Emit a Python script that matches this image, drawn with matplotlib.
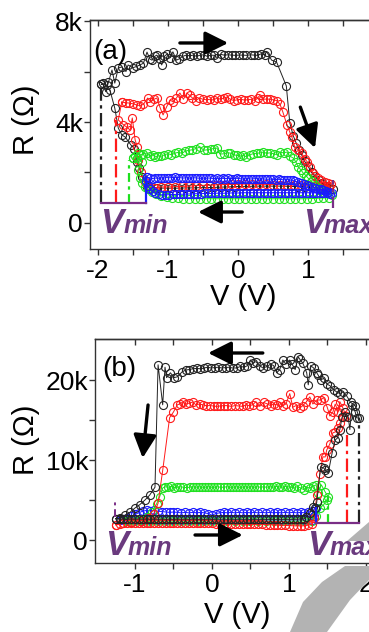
import matplotlib.pyplot as plt
from matplotlib.patches import Polygon

plt.rcParams['font.family'] = ['Liberation Sans', 'DejaVu Sans']

# ---------------- panel (a) data: (V, R) loops ----------------
a_black = [(-1.95,5500),(-1.93,5540),(-1.89,5200),(-1.85,5580),(-1.8,6060),(-1.76,5540),(-1.71,6140),(-1.66,6180),
           (-1.6,6000),(-1.57,6260),(-1.5,6150),(-1.45,6200),(-1.4,6260),(-1.35,6330),(-1.3,6770),(-1.26,6500),
           (-1.23,6450),(-1.19,6600),(-1.16,6650),(-1.12,6500),(-1.09,6260),(-1.05,6600),(-1.01,6700),(-0.97,6550),
           (-0.93,6780),(-0.88,6450),(-0.84,6500),(-0.79,6600),(-0.74,6650),(-0.69,6620),(-0.64,6650),(-0.59,6600),
           (-0.54,6650),(-0.49,6660),(-0.44,6600),(-0.39,6650),(-0.34,6640),(-0.3,6550),(-0.25,6680),(-0.2,6650),
           (-0.14,6660),(-0.09,6650),(-0.04,6640),(0.02,6650),(0.07,6650),(0.12,6640),(0.18,6660),(0.23,6650),
           (0.28,6640),(0.33,6700),(0.38,6660),(0.41,6780),(0.48,6450),(0.55,6380),(0.69,5430),(0.74,3960),
           (0.79,3450),(0.83,3170),(0.87,2900),(0.91,2690),(0.95,2450),(1.0,2250),(1.05,2000),(1.1,1850),
           (1.15,1700),(1.2,1580),(1.25,1480),(1.3,1400),(1.35,1350),
           (1.25,1380),(1.15,1400),(1.05,1420),(0.95,1430),(0.85,1440),(0.75,1450),(0.65,1460),(0.55,1460),
           (0.45,1460),(0.35,1460),(0.25,1460),(0.15,1450),(0.05,1450),(-0.05,1440),(-0.15,1430),(-0.25,1420),
           (-0.35,1410),(-0.45,1400),(-0.55,1400),(-0.65,1390),(-0.75,1390),(-0.85,1380),(-0.95,1380),(-1.05,1380),
           (-1.15,1390),(-1.25,1400),
           (-1.3,1430),(-1.37,1820),(-1.41,2180),(-1.44,2420),(-1.48,2950),(-1.53,3090),(-1.61,3400),(-1.66,3490),
           (-1.71,3760),(-1.76,4550),(-1.83,5270),(-1.87,5460),(-1.95,5500)]

a_red = [(-1.66,4790),(-1.6,4760),(-1.55,4750),(-1.5,4720),(-1.44,4670),(-1.4,4650),(-1.35,4700),(-1.29,4950),
         (-1.25,4800),(-1.2,4900),(-1.16,4950),(-1.11,4550),(-1.07,4280),(-1.02,4600),(-0.97,4870),(-0.93,4800),
         (-0.88,4950),(-0.83,5150),(-0.78,4900),(-0.73,5150),(-0.69,5050),(-0.65,4950),(-0.6,4850),(-0.55,4950),
         (-0.5,4900),(-0.45,4880),(-0.4,4900),(-0.35,4870),(-0.3,4950),(-0.25,4900),(-0.2,4950),(-0.16,4990),
         (-0.11,4900),(-0.06,4850),(-0.01,4880),(0.04,4900),(0.09,4870),(0.14,4880),(0.19,4900),(0.24,4850),
         (0.28,4950),(0.31,5050),(0.36,4900),(0.41,4910),(0.46,4900),(0.5,4880),(0.55,4850),(0.6,4700),
         (0.64,4400),(0.7,3880),(0.74,3600),(0.77,3400),(0.81,3010),(0.86,2900),(0.91,2770),(0.95,2550),
         (0.99,2420),(1.03,2200),(1.07,1980),(1.1,1880),(1.14,1780),(1.19,1700),(1.24,1620),(1.28,1580),
         (1.33,1560),
         (1.3,1450),(1.2,1470),(1.1,1480),(1.0,1490),(0.9,1500),(0.8,1500),(0.7,1510),(0.6,1520),(0.5,1520),
         (0.4,1530),(0.3,1530),(0.2,1540),(0.1,1540),(0.0,1540),(-0.1,1530),(-0.2,1520),(-0.3,1510),(-0.4,1500),
         (-0.5,1490),(-0.6,1480),(-0.7,1460),(-0.8,1450),(-0.9,1440),(-1.0,1430),(-1.1,1430),(-1.18,1400),
         (-1.26,1390),
         (-1.3,1500),(-1.33,1620),(-1.38,2000),(-1.43,2500),(-1.44,3010),(-1.47,3300),(-1.51,4160),(-1.54,3680),
         (-1.59,3800),(-1.64,3900),(-1.71,4080),(-1.66,4790)]

a_green = [(-1.5,2570),(-1.47,2650),(-1.43,2770),(-1.39,2700),(-1.35,2750),(-1.3,2770),(-1.26,2650),(-1.22,2700),
           (-1.18,2620),(-1.14,2660),(-1.1,2640),(-1.05,2700),(-1.0,2750),(-0.95,2700),(-0.9,2770),(-0.85,2800),
           (-0.8,2760),(-0.75,2850),(-0.7,2880),(-0.65,2900),(-0.6,2950),(-0.54,3010),(-0.49,2880),(-0.44,2900),
           (-0.39,2930),(-0.34,2950),(-0.3,2970),(-0.26,2730),(-0.2,2740),(-0.15,2780),(-0.11,2770),(-0.06,2700),
           (-0.02,2680),(0.03,2650),(0.07,2690),(0.12,2620),(0.17,2700),(0.22,2750),(0.27,2760),(0.32,2780),
           (0.36,2810),(0.41,2760),(0.46,2780),(0.51,2740),(0.56,2700),(0.6,2800),(0.65,2780),(0.7,2810),
           (0.74,2650),(0.79,2570),(0.83,2400),(0.86,2220),(0.9,2100),(0.93,1980),(0.97,1880),(1.0,1780),
           (1.05,1650),(1.1,1500),(1.15,1400),(1.21,1310),(1.27,1200),(1.34,1110),
           (1.3,1000),(1.22,990),(1.14,980),(1.06,970),(0.98,960),(0.9,960),(0.82,960),(0.74,960),(0.66,960),
           (0.58,960),(0.5,960),(0.42,960),(0.34,960),(0.26,960),(0.18,960),(0.1,960),(0.02,960),(-0.06,960),
           (-0.14,960),(-0.22,960),(-0.3,960),(-0.38,960),(-0.46,960),(-0.54,960),(-0.62,960),(-0.7,965),
           (-0.78,970),(-0.86,980),(-0.94,990),(-1.02,1020),(-1.1,1080),(-1.17,1160),(-1.23,1230),(-1.28,1330),
           (-1.33,1430),(-1.37,1580),(-1.4,1780),(-1.43,2100),(-1.37,2420),(-1.44,2570),(-1.5,2570)]

a_blue = [(-1.3,1820),(-1.26,1780),(-1.22,1760),(-1.18,1780),(-1.14,1770),(-1.1,1790),(-1.06,1780),(-1.02,1800),
          (-0.98,1790),(-0.94,1800),(-0.9,1810),(-0.86,1800),(-0.82,1790),(-0.78,1780),(-0.74,1790),(-0.7,1780),
          (-0.66,1780),(-0.62,1790),(-0.58,1780),(-0.54,1770),(-0.5,1780),(-0.46,1770),(-0.42,1780),(-0.38,1770),
          (-0.34,1760),(-0.3,1770),(-0.26,1760),(-0.22,1770),(-0.18,1760),(-0.14,1770),(-0.1,1760),(-0.06,1760),
          (-0.02,1770),(0.02,1760),(0.06,1740),(0.1,1750),(0.14,1760),(0.18,1740),(0.22,1750),(0.26,1760),
          (0.3,1740),(0.34,1750),(0.38,1740),(0.42,1730),(0.46,1740),(0.5,1730),(0.54,1720),(0.58,1730),
          (0.62,1720),(0.66,1710),(0.7,1720),(0.74,1700),(0.78,1690),(0.82,1650),(0.86,1620),(0.9,1580),
          (0.94,1550),(0.98,1520),(1.02,1480),(1.06,1440),(1.1,1400),(1.14,1360),(1.18,1330),(1.22,1300),
          (1.26,1260),(1.3,1230),(1.34,1200),
          (1.32,1160),(1.27,1170),(1.22,1180),(1.17,1190),(1.12,1190),(1.07,1200),(1.02,1200),(0.97,1200),
          (0.92,1200),(0.87,1200),(0.82,1200),(0.77,1200),(0.72,1200),(0.67,1200),(0.62,1200),(0.57,1200),
          (0.52,1200),(0.47,1200),(0.42,1200),(0.37,1200),(0.32,1200),(0.27,1200),(0.22,1200),(0.17,1200),
          (0.12,1200),(0.07,1200),(0.02,1190),(-0.03,1190),(-0.08,1190),(-0.13,1190),(-0.18,1180),(-0.23,1180),
          (-0.28,1180),(-0.33,1180),(-0.38,1170),(-0.43,1170),(-0.48,1170),(-0.53,1160),(-0.58,1160),(-0.63,1160),
          (-0.68,1150),(-0.73,1150),(-0.78,1140),(-0.83,1140),(-0.88,1130),(-0.93,1130),(-0.98,1120),(-1.03,1120),
          (-1.08,1110),(-1.13,1130),(-1.18,1180),(-1.22,1250),(-1.26,1350),(-1.29,1480),(-1.31,1650),(-1.3,1820)]

# switching voltages (a)
a_vmin = [-1.96, -1.74, -1.56, -1.31]
a_vmin_top = [5580, 4080, 2500, 1820]
a_base = 790
a_vmax = 1.36
a_vmax_span = (590, 1700)
a_arrows = [((-0.83, 7130), (-0.14, 7130)), ((0.89, 4590), (1.1, 2970)), ((0.06, 435), (-0.57, 435))]

# ---------------- panel (b) data ----------------
b_black = [(-1.25,2650),(-1.2,2600),(-1.15,2620),(-1.1,2600),(-1.05,2610),(-1.0,2600),(-0.95,2620),(-0.9,2600),
           (-0.85,2610),(-0.8,2600),(-0.75,2600),(-0.7,2610),(-0.65,2600),(-0.6,2600),(-0.55,2610),(-0.5,2600),
           (-0.45,2600),(-0.4,2610),(-0.35,2600),(-0.3,2600),(-0.25,2610),(-0.2,2600),(-0.15,2600),(-0.1,2600),
           (-0.05,2610),(0.0,2600),(0.05,2600),(0.1,2590),(0.15,2600),(0.2,2590),(0.25,2600),(0.3,2590),
           (0.35,2600),(0.4,2590),(0.45,2600),(0.5,2590),(0.55,2600),(0.6,2590),(0.65,2580),(0.7,2590),
           (0.75,2580),(0.8,2590),(0.85,2580),(0.9,2590),(0.95,2580),(1.0,2590),(1.05,2580),(1.1,2600),
           (1.15,2620),(1.2,2650),
           (1.22,2875),(1.27,3375),(1.31,4100),(1.34,4000),(1.36,4700),(1.41,9125),(1.45,9000),(1.47,8750),
           (1.51,8375),(1.56,10875),(1.6,12500),(1.63,12750),(1.66,13800),(1.69,15375),(1.73,16000),(1.77,15375),
           (1.79,13800),(1.82,16875),(1.86,16000),(1.88,15250),(1.91,15300),
           (1.86,16800),(1.8,17200),(1.75,18000),(1.7,18500),(1.66,18300),(1.62,18500),(1.58,18800),(1.53,19300),
           (1.49,19500),(1.45,20200),(1.41,20000),(1.38,20600),(1.36,20900),(1.32,21500),(1.28,21800),(1.25,19400),
           (1.23,20900),(1.18,22100),(1.14,22600),(1.12,22900),(1.08,21300),(1.04,22000),(1.01,22500),(0.96,22000),
           (0.92,22500),(0.88,21300),(0.84,20900),(0.8,21800),(0.76,22000),(0.72,21700),(0.66,21500),(0.62,21800),
           (0.57,22300),(0.53,22100),(0.5,22500),(0.46,21800),(0.42,21600),(0.37,21700),(0.32,21500),(0.27,21500),
           (0.22,21600),(0.18,21550),(0.13,21500),(0.08,21600),(0.04,21550),(-0.01,21500),(-0.06,21600),(-0.1,21500),
           (-0.15,21400),(-0.2,21450),(-0.25,21400),(-0.3,21300),(-0.34,21250),(-0.39,21000),(-0.45,20400),(-0.49,20300),
           (-0.54,20900),(-0.59,20300),(-0.61,21600),(-0.64,16900),(-0.7,21900),
           (-0.74,6600),(-0.81,5600),(-0.87,5000),(-0.94,4400),(-1.0,4000),(-1.06,3500),(-1.13,3100),(-1.19,2700),
           (-1.25,2650)]

b_red = [(-1.25,1900),(-1.2,2000),(-1.15,2100),(-1.1,2150),(-1.05,2150),(-1.0,2150),(-0.95,2150),(-0.9,2150),
         (-0.85,2150),(-0.8,2150),(-0.75,2150),(-0.7,2150),(-0.65,2150),(-0.6,2150),(-0.55,2150),(-0.5,2150),
         (-0.45,2150),(-0.4,2150),(-0.35,2150),(-0.3,2150),(-0.25,2150),(-0.2,2150),(-0.15,2150),(-0.1,2150),
         (-0.05,2150),(0.0,2100),(0.05,2050),(0.1,2000),(0.15,2000),(0.2,2000),(0.25,2000),(0.3,1980),
         (0.35,1980),(0.4,1980),(0.45,1980),(0.5,1960),(0.55,1960),(0.6,1950),(0.65,1950),(0.7,1930),
         (0.75,1900),(0.8,1900),(0.85,1880),(0.9,1850),(0.95,1820),(1.0,1800),(1.05,1780),(1.1,1760),
         (1.15,1760),(1.2,1780),(1.25,1850),(1.3,2000),
         (1.33,2800),(1.36,5600),(1.4,8200),(1.44,10400),(1.47,10375),(1.49,11250),(1.53,12000),(1.57,13400),
         (1.6,13500),(1.64,14000),(1.66,14600),(1.7,15400),(1.74,15500),
         (1.7,16500),(1.66,17300),(1.64,16000),(1.6,17000),(1.57,16000),(1.53,15500),(1.5,16500),(1.45,17800),
         (1.41,17500),(1.36,17500),(1.31,17000),(1.27,17900),(1.22,17200),(1.18,16800),(1.14,16500),(1.09,16800),
         (1.05,16600),(1.01,18300),(0.96,17000),(0.92,16800),(0.88,17200),(0.84,16900),(0.8,17000),(0.76,16800),
         (0.72,17000),(0.67,17200),(0.62,16700),(0.57,17300),(0.53,16900),(0.48,16800),(0.44,16900),(0.4,16700),
         (0.35,16750),(0.3,16800),(0.25,16700),(0.2,16800),(0.15,16800),(0.1,16750),(0.06,16700),(0.02,16750),
         (-0.03,16800),(-0.08,16800),(-0.12,16900),(-0.16,17000),(-0.21,16900),(-0.25,17250),(-0.3,17100),
         (-0.34,17000),(-0.38,17250),(-0.42,17000),(-0.45,16900),(-0.5,16000),(-0.55,15300),(-0.64,8700),
         (-0.7,4600),(-0.75,3300),(-0.82,2700),(-0.92,2400),(-1.05,2200),(-1.15,2100),(-1.25,1900)]

b_green = [(-1.1,2350),(-1.0,2350),(-0.9,2350),(-0.8,2350),(-0.7,2350),(-0.6,2350),(-0.5,2350),(-0.4,2350),
           (-0.3,2350),(-0.2,2350),(-0.1,2350),(0.0,2350),(0.1,2350),(0.2,2350),(0.3,2350),(0.4,2350),
           (0.5,2350),(0.6,2350),(0.7,2350),(0.8,2350),(0.9,2350),(1.0,2350),(1.1,2350),(1.2,2380),(1.3,2400),
           (1.35,3000),(1.4,4000),(1.45,4400),(1.49,5000),(1.51,5400),
           (1.47,6000),(1.42,6900),(1.38,5900),(1.35,6900),(1.31,6700),(1.27,6500),(1.23,6600),(1.19,6300),
           (1.15,6500),(1.11,6700),(1.07,6500),(1.03,6600),(0.99,6650),(0.95,6700),(0.91,6600),(0.87,6650),
           (0.83,6700),(0.79,6600),(0.75,6650),(0.71,6600),(0.67,6650),(0.63,6600),(0.59,6650),(0.55,6600),
           (0.51,6650),(0.47,6600),(0.43,6650),(0.39,6600),(0.35,6600),(0.31,6650),(0.27,6600),(0.23,6600),
           (0.19,6650),(0.15,6600),(0.11,6600),(0.07,6650),(0.03,6600),(-0.01,6600),(-0.05,6650),(-0.09,6600),
           (-0.13,6600),(-0.17,6650),(-0.21,6600),(-0.25,6650),(-0.29,6600),(-0.33,6550),(-0.37,6600),(-0.41,6650),
           (-0.45,6600),(-0.49,6550),(-0.53,6700),(-0.57,6600),(-0.61,6650),(-0.64,6500),(-0.68,5400),(-0.72,4500),
           (-0.78,3500),(-0.85,2900),(-0.95,2500),(-1.1,2350)]

b_blue = [(-1.2,2500),(-1.1,2500),(-1.0,2500),(-0.9,2500),(-0.8,2500),(-0.7,2500),(-0.6,2500),(-0.5,2500),
          (-0.4,2500),(-0.3,2500),(-0.2,2500),(-0.1,2500),(0.0,2500),(0.1,2500),(0.2,2500),(0.3,2500),
          (0.4,2500),(0.5,2500),(0.6,2500),(0.7,2500),(0.8,2500),(0.9,2500),(1.0,2500),(1.1,2500),(1.2,2500),
          (1.3,2550),(1.33,3000),(1.35,4000),
          (1.3,3600),(1.25,3500),(1.2,3400),(1.15,3450),(1.1,3400),(1.05,3450),(1.0,3400),(0.95,3450),(0.9,3400),
          (0.85,3450),(0.8,3400),(0.75,3450),(0.7,3400),(0.65,3450),(0.6,3400),(0.55,3450),(0.5,3400),(0.45,3450),
          (0.4,3400),(0.35,3450),(0.3,3400),(0.25,3450),(0.2,3400),(0.15,3450),(0.1,3400),(0.05,3300),(0.0,3100),
          (-0.05,3300),(-0.1,3400),(-0.15,3450),(-0.2,3400),(-0.25,3450),(-0.3,3400),(-0.35,3450),(-0.4,3400),
          (-0.45,3450),(-0.5,3500),(-0.55,3450),(-0.6,3500),(-0.65,3550),(-0.7,3600),(-0.75,3700),(-0.8,3650),
          (-0.85,3700),(-0.9,3600),(-0.95,3400),(-1.0,3200),(-1.05,3000),(-1.1,2800),(-1.15,2650),(-1.2,2500)]

b_vmax = [1.35, 1.51, 1.75, 1.91]
b_vmax_top = [4000, 5375, 13125, 15250]
b_base = 2125
b_vmin = -1.26
b_vmin_span = (2875, 4750)
b_arrows = [((0.66, 23375), (-0.05, 23375)), ((-0.83, 16875), (-0.9, 10250)), ((-0.22, 625), (0.40, 625))]

colors = ['#222222', '#ff1a1a', '#1ee01e', '#1a1aff']
purple = '#7a2e86'
txt_purple = '#6a3a7e'
line_styles = [(0, (6, 2, 1.5, 2)), (0, (6, 2, 1.5, 2)), (0, (4, 2, 1.5, 2)), '-']

fig = plt.figure(figsize=(3.69, 6.32), dpi=100)
W, H = 369.0, 632.0


def loop(ax, pts, c):
    v, r = zip(*pts)
    ax.plot(v, r, '-', color=c, lw=0.7, marker='o', ms=5.8, mfc='none', mew=0.8, zorder=2)


def style(ax, xlim, ylim, xt, yt, ytl, xminor, yminor):
    ax.set_xlim(*xlim)
    ax.set_ylim(*ylim)
    ax.set_xticks(xt)
    ax.set_xticklabels([('-' if t < 0 else '') + str(abs(t)) for t in xt])
    ax.set_xticks(xminor, minor=True)
    ax.set_yticks(yt)
    ax.set_yticklabels(ytl)
    ax.set_yticks(yminor, minor=True)
    ax.spines['right'].set_visible(False)
    for s in ax.spines.values():
        s.set_linewidth(1.0)
        s.set_color('#333333')
    ax.tick_params(which='both', direction='out', length=4, width=1, color='#333333', labelsize=19)
    ax.tick_params(axis='y', pad=1)
    ax.tick_params(axis='x', pad=3)
    sec = ax.secondary_xaxis('top')
    sec.set_xticks(list(xt) + list(xminor))
    sec.tick_params(direction='in', length=4, width=1, color='#333333', labeltop=False)
    sec.spines['top'].set_linewidth(1.0)
    sec.spines['top'].set_color('#333333')


def vlabel(ax, xv, yv, xs, sub):
    ax.text(xv, yv, 'V', fontsize=25, fontweight='bold', style='italic', color=txt_purple,
            ha='left', va='baseline', zorder=5)
    ax.text(xs, yv, sub, fontsize=18, fontweight='bold', style='italic', color=txt_purple,
            ha='left', va='baseline', zorder=5)


def arrows(ax, arr):
    for (s, e) in arr:
        ax.annotate('', xy=e, xytext=s,
                    arrowprops=dict(arrowstyle='-|>,head_length=0.7,head_width=0.35', color='k',
                                    lw=2.4, mutation_scale=20, shrinkA=0, shrinkB=0), zorder=6)


# ---------------- panel (a) ----------------
ax1 = fig.add_axes([90 / W, 1 - 249 / H, 279 / W, 229 / H])
for pts, c in zip([a_black, a_red, a_green, a_blue], colors):
    loop(ax1, pts, c)
for v, top, c, ls in zip(a_vmin, a_vmin_top, colors, line_styles):
    ax1.plot([v, v], [a_base, top], color=c, lw=1.6, ls=ls, zorder=3)
ax1.plot([a_vmin[0], a_vmin[-1]], [a_base, a_base], color=purple, lw=1.6, zorder=3)
ax1.plot([a_vmax, a_vmax], a_vmax_span, color=purple, lw=1.6, ls=(0, (5, 2, 1.5, 2)), zorder=3)
arrows(ax1, a_arrows)
ax1.text(-2.07, 6770, '(a)', fontsize=20, ha='left', va='center')
vlabel(ax1, -1.97, -396, -1.64, 'min')
vlabel(ax1, 0.93, -396, 1.22, 'max')
style(ax1, (-2.114, 1.871), (-1030, 8040), [-2, -1, 0, 1], [0, 4000, 8000], ['0', '4k', '8k'],
      [-1.5, -0.5, 0.5, 1.5], [2000, 6000])
fig.text(26 / W, 1 - 120 / H, 'R (\u03a9)', rotation=90, ha='center', va='center', fontsize=21)
fig.text(243 / W, 1 - 297 / H, 'V (V)', ha='center', va='center', fontsize=21)

# ---------------- panel (b) ----------------
ax2 = fig.add_axes([95 / W, 1 - 563 / H, 274 / W, 224 / H])
for pts, c in zip([b_blue, b_green, b_red, b_black], colors[::-1]):
    loop(ax2, pts, c)
for v, top, c, ls in zip(b_vmax, b_vmax_top, colors[::-1], line_styles[::-1]):
    ax2.plot([v, v], [b_base, top], color=c, lw=1.6, ls=ls, zorder=3)
ax2.plot([b_vmax[0], b_vmax[-1]], [b_base, b_base], color=purple, lw=1.6, zorder=3)
ax2.plot([b_vmin, b_vmin], b_vmin_span, color=purple, lw=1.4, ls=(0, (4, 2, 1.5, 2)), zorder=3)
arrows(ax2, b_arrows)
ax2.text(-1.42, 21375, '(b)', fontsize=20, ha='left', va='center')
vlabel(ax2, -1.39, -1875, -1.10, 'min')
vlabel(ax2, 1.23, -1875, 1.53, 'max')
style(ax2, (-1.519, 2.039), (-2875, 25125), [-1, 0, 1, 2], [0, 10000, 20000], ['0', '10k', '20k'],
      [-0.5, 0.5, 1.5], [5000, 15000])
fig.text(26 / W, 1 - 440 / H, 'R (\u03a9)', rotation=90, ha='center', va='center', fontsize=21)
fig.text(237 / W, 1 - 615 / H, 'V (V)', ha='center', va='center', fontsize=21)

# grey watermark stroke in the lower right corner
band = [(345, 566), (369, 566), (369, 580), (350, 600), (327, 632), (290, 632), (303, 602), (322, 582)]
wedge = [(347, 541), (369, 522), (369, 541)]
for poly in (band, wedge):
    fig.patches.append(Polygon([(x / W, 1 - y / H) for x, y in poly], closed=True,
                               transform=fig.transFigure, facecolor='#b3b3b3', edgecolor='none', zorder=10))

fig.savefig('out.png', dpi=100)
